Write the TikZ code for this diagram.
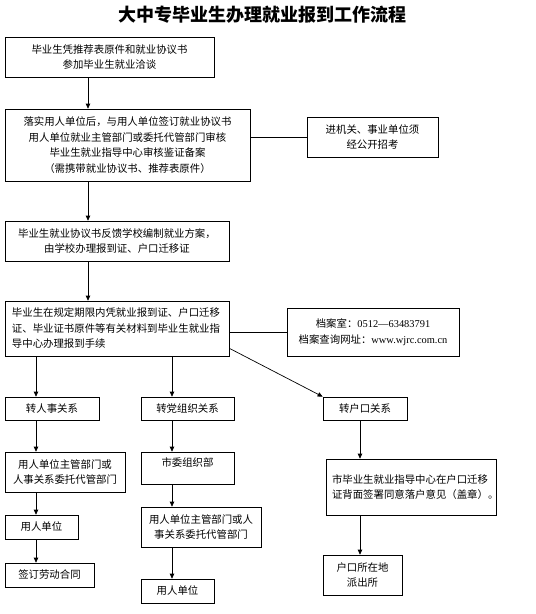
\documentclass[tikz,border=0pt]{standalone}
\usepackage{fontspec}
\setmainfont{Liberation Serif}
\newfontfamily\cjk{Noto Sans CJK SC}
\usetikzlibrary{arrows.meta}
\tikzset{
  box/.style   = {rectangle, draw, line width=0.7pt, align=center, inner sep=0pt,
                  font=\cjk\fontsize{10.4}{15.5}\selectfont},
  arrow/.style = {line width=0.7pt, ->, >={Triangle[length=5pt,width=4.5pt]}},
  link/.style  = {line width=0.7pt},
}

\begin{document}
\begin{tikzpicture}[x=1pt, y=-1pt]
    \useasboundingbox (0,0) rectangle (536,614);

    \node[font=\cjk\bfseries\fontsize{18}{20}\selectfont] (title) at (262,15)
      {大中专毕业生办理就业报到工作流程};

    \node[box, minimum width=209, minimum height=40] (b1) at (109.5,57)
      {毕业生凭推荐表原件和就业协议书\\参加毕业生就业洽谈};
    \node[box, minimum width=245, minimum height=72] (b2) at (127.5,145)
      {落实用人单位后，与用人单位签订就业协议书\\用人单位就业主管部门或委托代管部门审核\\毕业生就业指导中心审核鉴证备案\\（需携带就业协议书、推荐表原件）};
    \node[box, minimum width=131, minimum height=40] (s1) at (372.5,137)
      {进机关、事业单位须\\经公开招考};
    \node[box, minimum width=224, minimum height=40] (b3) at (117,241)
      {毕业生就业协议书反馈学校编制就业方案，\\由学校办理报到证、户口迁移证};
    \node[box, align=left, text width=210, inner xsep=7, minimum height=55] (b4) at (117,328.5)
      {毕业生在规定期限内凭就业报到证、户口迁移\\证、毕业证书原件等有关材料到毕业生就业指\\导中心办理报到手续};
    \node[box, minimum width=172, minimum height=48] (s2) at (373,332)
      {档案室：{\rmfamily 0512—63483791}\\档案查询网址：{\rmfamily www.wjrc.com.cn}};

    \node[box, minimum width=94, minimum height=23]  (rs)  at (52,408.5)   {转人事关系};
    \node[box, minimum width=120, minimum height=40] (rs2) at (65,472)     {用人单位主管部门或\\人事关系委托代管部门};
    \node[box, minimum width=73, minimum height=24]  (rs3) at (41.5,527)   {用人单位};
    \node[box, minimum width=89, minimum height=24]  (rs4) at (49.5,575)   {签订劳动合同};

    \node[box, minimum width=93, minimum height=23]  (dz)  at (187.5,408.5) {转党组织关系};
    \node[box, minimum width=93, minimum height=32, text depth=12] (dz2) at (187.5,468) {市委组织部};
    \node[box, minimum width=120, minimum height=40] (dz3) at (201,527)     {用人单位主管部门或人\\事关系委托代管部门};
    \node[box, minimum width=73, minimum height=24]  (dz4) at (177.5,591)   {用人单位};

    \node[box, minimum width=84, minimum height=23]  (hk)  at (365,408.5)  {转户口关系};
    \node[box, align=left, text width=158, inner xsep=6, minimum height=56, text depth=16] (hk2) at (411,487)
      {市毕业生就业指导中心在户口迁移\\证背面签署同意落户意见（盖章）。};
    \node[box, minimum width=79, minimum height=40]  (hk3) at (362.5,575)  {户口所在地\\派出所};

    \coordinate (main) at (88,0);
    \coordinate (colL) at (36,0);
    \coordinate (colM) at (172,0);
    \coordinate (colR) at (360,0);

    \draw[arrow] (b1.south -| main) -- (b2.north -| main);
    \draw[arrow] (b2.south -| main) -- (b3.north -| main);
    \draw[arrow] (b3.south -| main) -- (b4.north -| main);
    \draw[link]  (s1.west -| b2.east) -- (s1.west);
    \draw[link]  (s2.west -| b4.east) -- (s2.west);

    \draw[arrow] (b4.south -| colL) -- (rs.north -| colL);
    \draw[arrow] (rs.south -| colL) -- (rs2.north -| colL);
    \draw[arrow] (rs2.south -| colL) -- (rs3.north -| colL);
    \draw[arrow] (rs3.south -| colL) -- (rs4.north -| colL);

    \draw[arrow] (b4.south -| colM) -- (dz.north -| colM);
    \draw[arrow] (dz.south -| colM) -- (dz2.north -| colM);
    \draw[arrow] (dz2.south -| colM) -- (dz3.north -| colM);
    \draw[arrow] (dz3.south -| colM) -- (dz4.north -| colM);

    \draw[arrow] (b4.-10) -- (hk.north west);
    \draw[arrow] (hk.south -| colR) -- (hk2.north -| colR);
    \draw[arrow] (hk2.south -| colR) -- (hk3.north -| colR);

  \end{tikzpicture}
\end{document}
